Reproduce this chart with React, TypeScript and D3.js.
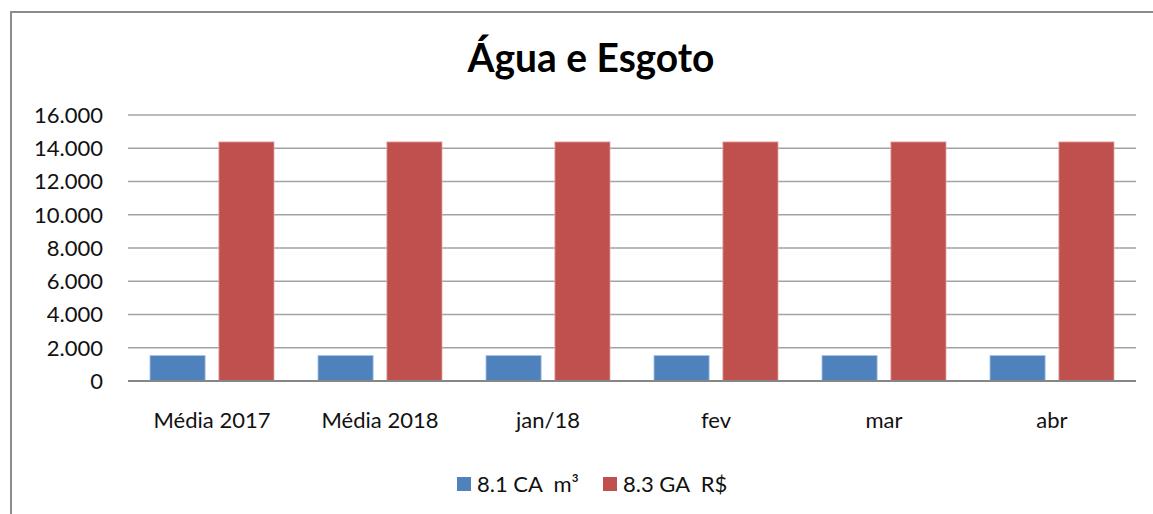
import React, { useEffect, useRef } from 'react';
import * as d3 from 'd3';

const categories = ['Média 2017', 'Média 2018', 'jan/18', 'fev', 'mar', 'abr'];
const seriesNames = ['8.1 CA  m³', '8.3 GA  R$'];
const caValues = [1530, 1530, 1530, 1530, 1530, 1530];
const gaValues = [14380, 14380, 14380, 14380, 14380, 14380];
const yTicks = [0, 2000, 4000, 6000, 8000, 10000, 12000, 14000, 16000];
const colors = ['#4f81bd', '#c0504d'];

const W = 1153;
const H = 514;
const FONT = 'Lato, "Open Sans", sans-serif';

export default () => {
  const svgRef = useRef<SVGSVGElement>(null);

  useEffect(() => {
    if (!svgRef.current) {
      return;
    }
    const svg = d3.select(svgRef.current);
    svg.selectAll('*').remove();

    // chart area border (cut off on the right and bottom)
    svg.append('rect')
      .attr('x', 11)
      .attr('y', 12)
      .attr('width', 1160)
      .attr('height', 520)
      .attr('fill', '#fff')
      .attr('stroke', '#8c8c8c')
      .attr('stroke-width', 2);

    svg.append('text')
      .attr('x', 591)
      .attr('y', 72)
      .attr('text-anchor', 'middle')
      .attr('font-family', FONT)
      .attr('font-weight', 'bold')
      .attr('font-size', 40)
      .attr('textLength', 247)
      .attr('lengthAdjust', 'spacingAndGlyphs')
      .attr('fill', '#000')
      .text('Água e Esgoto');

    const x = d3.scaleBand<string>()
      .domain(categories)
      .range([128, 1136]);
    const inner = d3.scaleBand<number>()
      .domain([0, 1])
      .range([22, x.bandwidth() - 22])
      .paddingInner(0.2);
    const y = d3.scaleLinear()
      .domain([0, 16000])
      .range([381, 115]);

    const fmt = (v: number) => d3.format(',')(v).replace(/,/g, '.');

    // gridlines
    svg.append('g')
      .selectAll('line')
      .data(yTicks.filter((t) => t > 0))
      .enter()
      .append('line')
      .attr('x1', 128)
      .attr('x2', 1136)
      .attr('y1', (d) => y(d))
      .attr('y2', (d) => y(d))
      .attr('stroke', '#a3a3a3')
      .attr('stroke-width', 1.5);

    svg.append('g')
      .selectAll('text')
      .data(yTicks)
      .enter()
      .append('text')
      .attr('x', 103)
      .attr('y', (d) => y(d))
      .attr('dy', '0.36em')
      .attr('text-anchor', 'end')
      .attr('font-family', FONT)
      .attr('font-size', 22)
      .attr('fill', '#111')
      .text((d) => fmt(d));

    const series = [caValues, gaValues];
    series.forEach((vals, si) => {
      svg.append('g')
        .selectAll('rect')
        .data(vals)
        .enter()
        .append('rect')
        .attr('x', (d, i) => (x(categories[i]) as number) + (inner(si) as number))
        .attr('y', (d) => y(d))
        .attr('width', inner.bandwidth())
        .attr('height', (d) => y(0) - y(d))
        .attr('fill', colors[si])
        .attr('stroke', si === 0 ? '#a9c1e0' : '#e1a5a3')
        .attr('stroke-width', 0.8);
    });

    // zero axis
    svg.append('line')
      .attr('x1', 128)
      .attr('x2', 1136)
      .attr('y1', y(0))
      .attr('y2', y(0))
      .attr('stroke', '#868686')
      .attr('stroke-width', 2);

    svg.append('g')
      .selectAll('text')
      .data(categories)
      .enter()
      .append('text')
      .attr('x', (d) => (x(d) as number) + x.bandwidth() / 2)
      .attr('y', 428)
      .attr('text-anchor', 'middle')
      .attr('font-family', FONT)
      .attr('font-size', 22)
      .attr('fill', '#111')
      .text((d) => d);

    // legend
    const legendX = [457, 603];
    seriesNames.forEach((name, i) => {
      svg.append('rect')
        .attr('x', legendX[i])
        .attr('y', 477)
        .attr('width', 14)
        .attr('height', 14)
        .attr('fill', colors[i]);
      svg.append('text')
        .attr('x', legendX[i] + 20)
        .attr('y', 492)
        .attr('font-family', FONT)
        .attr('font-size', 22)
        .attr('fill', '#111')
        .style('white-space', 'pre')
        .text(name);
    });
  }, []);

  return (
    <svg
      ref={svgRef}
      width={W}
      height={H}
      style={{ position: 'absolute', left: 0, top: 0, background: '#fff' }}
    />
  );
};
